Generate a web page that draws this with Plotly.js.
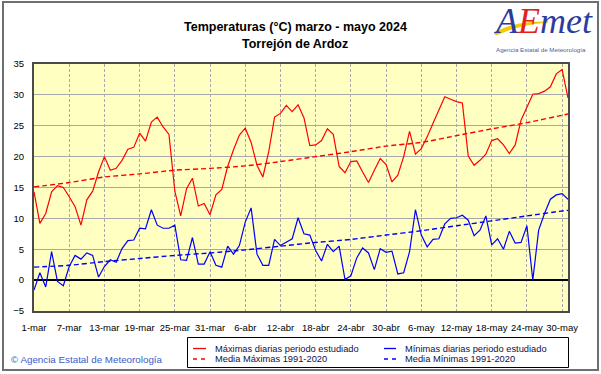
<!DOCTYPE html>
<html>
<head>
<meta charset="utf-8">
<script src="https://cdn.plot.ly/plotly-3.0.1.min.js"></script>
<style>html,body{margin:0;padding:0;background:#fff;}#chart{width:601px;height:374px;}</style>
</head>
<body>
<div id="chart"></div>
<script>
// Daily maximum temperatures, 1 March .. 31 May 2024 (°C)
const tmax = [14.3, 9.2, 10.8, 14.3, 15.3, 15.0, 13.5, 11.9, 8.9, 13.0,
  14.4, 17.5, 20.0, 17.8, 18.1, 19.4, 21.2, 21.5, 23.8, 22.5,
  25.6, 26.4, 24.8, 23.6, 14.4, 10.4, 14.8, 16.5, 12.0, 12.4,
  10.6, 13.8, 14.7, 18.4, 21.1, 23.5, 24.6, 22.3, 18.6, 16.7,
  20.8, 26.4, 27.0, 28.3, 27.3, 28.4, 26.3, 21.8, 21.9, 22.6,
  24.5, 23.6, 18.4, 17.4, 19.2, 19.3, 17.5, 15.8, 17.8, 19.7,
  18.7, 15.9, 17.0, 20.0, 24.1, 20.4, 21.3, 23.2, 25.4, 27.5,
  29.7, 29.3, 28.9, 28.7, 20.1, 18.6, 19.4, 20.4, 22.6, 22.9,
  21.9, 20.5, 21.9, 25.9, 28.1, 30.1, 30.2, 30.6, 31.3, 33.4,
  34.1, 29.5];
// Daily minimum temperatures (°C)
const tmin = [-1.6, 1.2, -1.1, 4.6, -0.2, -0.9, 2.2, 4.0, 3.4, 4.4,
  4.0, 0.5, 2.2, 3.3, 2.9, 5.1, 6.4, 6.5, 8.4, 8.3,
  11.4, 8.9, 8.4, 8.4, 8.9, 3.3, 3.2, 6.9, 2.6, 2.6,
  4.6, 2.4, 2.1, 5.5, 4.2, 5.6, 9.4, 11.7, 4.2, 2.4,
  2.4, 6.6, 5.6, 6.2, 6.7, 10.1, 7.5, 7.3, 4.8, 3.1,
  5.8, 4.6, 5.5, 0.1, 0.7, 3.6, 5.2, 4.4, 1.7, 5.1,
  4.5, 4.7, 1.0, 1.2, 4.6, 11.4, 7.3, 5.4, 6.6, 6.7,
  9.1, 10.0, 10.1, 10.5, 9.7, 7.2, 8.1, 10.4, 5.7, 6.7,
  5.0, 7.9, 6.0, 6.1, 8.8, 0.0, 8.1, 10.8, 13.1, 13.8,
  14.0, 13.1];
// Climatological means 1991-2020, read at these dates
const meanDates = ['2024-03-01','2024-03-07','2024-03-13','2024-03-19','2024-03-25','2024-03-31',
  '2024-04-06','2024-04-12','2024-04-18','2024-04-24','2024-04-30','2024-05-06',
  '2024-05-12','2024-05-18','2024-05-24','2024-05-30','2024-05-31'];
const meanMax = [15.1, 15.8, 16.7, 17.2, 17.8, 18.1, 18.5, 19.2, 20.0, 20.8, 21.7, 22.3, 23.4, 24.5, 25.5, 26.7, 26.9];
const meanMin = [2.1, 2.4, 3.0, 3.5, 4.0, 4.4, 4.9, 5.5, 6.1, 6.6, 7.3, 8.0, 8.8, 9.6, 10.4, 11.2, 11.3];
// Axis ticks
const tickDates = ['2024-03-01','2024-03-07','2024-03-13','2024-03-19','2024-03-25','2024-03-31',
  '2024-04-06','2024-04-12','2024-04-18','2024-04-24','2024-04-30','2024-05-06',
  '2024-05-12','2024-05-18','2024-05-24','2024-05-30'];
const tickLabels = ['1-mar','7-mar','13-mar','19-mar','25-mar','31-mar','6-abr','12-abr',
  '18-abr','24-abr','30-abr','6-may','12-may','18-may','24-may','30-may'];
const yTicks = [-5, 0, 5, 10, 15, 20, 25, 30, 35];
const legendNames = ['Máximas diarias periodo estudiado', 'Mínimas diarias periodo estudiado',
  'Media Máximas 1991-2020', 'Media Mínimas 1991-2020'];

const START = Date.UTC(2024, 2, 1);
const days = tmax.map((_, i) => new Date(START + i * 86400000).toISOString().slice(0, 10));

const W = 601, H = 374, L = 34, R = 568, T = 64, B = 311;
const px = x => (x - L) / (R - L);
const py = y => (B - y) / (B - T);

const RED = '#ff0000', BLUE = '#0000ff';
const DASH = '5px,3px';

const traces = [
  {x: days, y: tmax, type: 'scatter', mode: 'lines', name: legendNames[0], line: {color: RED, width: 1.2}},
  {x: days, y: tmin, type: 'scatter', mode: 'lines', name: legendNames[1], line: {color: BLUE, width: 1.2}},
  {x: meanDates, y: meanMax, type: 'scatter', mode: 'lines', name: legendNames[2], line: {color: RED, width: 1.4, dash: DASH, shape: 'spline', smoothing: 0.6}},
  {x: meanDates, y: meanMin, type: 'scatter', mode: 'lines', name: legendNames[3], line: {color: BLUE, width: 1.4, dash: DASH, shape: 'spline', smoothing: 0.6}}
];

const tickFont = {family: 'Liberation Sans Narrow, Arial Narrow, Liberation Sans, Arial, sans-serif', size: 9.5, color: '#000'};
const legFont = {family: 'Liberation Sans, Arial, sans-serif', size: 9.3, color: '#101048'};

const shapes = [
  // outer frame
  {type: 'rect', xref: 'paper', yref: 'paper', x0: px(3), x1: px(598), y0: py(370), y1: py(2),
   line: {color: '#6e6e6e', width: 2}, fillcolor: 'rgba(0,0,0,0)', layer: 'below'},
  // legend box
  {type: 'rect', xref: 'paper', yref: 'paper', x0: px(187.5), x1: px(568.5), y0: py(367.5), y1: py(337.5),
   line: {color: '#000', width: 1}, fillcolor: '#fff'},
  // legend samples
  {type: 'line', xref: 'paper', yref: 'paper', x0: px(193), x1: px(206), y0: py(348.5), y1: py(348.5), line: {color: RED, width: 1.3}},
  {type: 'line', xref: 'paper', yref: 'paper', x0: px(193), x1: px(206), y0: py(359), y1: py(359), line: {color: RED, width: 1.3, dash: '4px,4px'}},
  {type: 'line', xref: 'paper', yref: 'paper', x0: px(384), x1: px(396), y0: py(348.5), y1: py(348.5), line: {color: BLUE, width: 1.3}},
  {type: 'line', xref: 'paper', yref: 'paper', x0: px(384), x1: px(396), y0: py(359), y1: py(359), line: {color: BLUE, width: 1.3, dash: '4px,4px'}},
  // logo swoosh
  {type: 'path', xref: 'paper', yref: 'paper',
   path: `M ${px(494)} ${py(33)} Q ${px(515)} ${py(21)} ${px(548)} ${py(22)} Q ${px(520)} ${py(24)} ${px(496)} ${py(35)} Z`,
   fillcolor: '#f5c800', line: {color: '#f5c800', width: 1}}
];

const ann = (x, y, text, font, xanchor) => ({xref: 'paper', yref: 'paper', x: px(x), y: py(y), text: text,
  showarrow: false, xanchor: xanchor || 'left', yanchor: 'middle', font: font});

const titleFont = {family: 'Liberation Sans, Arial, sans-serif', size: 12.5, color: '#000'};
const annotations = [
  ann(295, 27, '<b>Temperaturas (°C) marzo - mayo 2024</b>', titleFont, 'center'),
  ann(295, 44, '<b>Torrejón de Ardoz</b>', titleFont, 'center'),
  ann(212.5, 348.5, legendNames[0], legFont),
  ann(212.5, 359, legendNames[2], legFont),
  ann(402.5, 348.5, legendNames[1], legFont),
  ann(402.5, 359, legendNames[3], legFont),
  ann(9, 359, '© Agencia Estatal de Meteorología', {family: 'Liberation Sans, Arial, sans-serif', size: 9.8, color: '#3a5bc8'}),
  ann(543, 21, '<i><span style="color:#2b3c9e">A</span><span style="color:#e2231a">E</span><span style="color:#2b3c9e">met</span></i>',
      {family: 'Liberation Serif, DejaVu Serif, serif', size: 36, color: '#2b3c9e'}, 'center'),
  ann(541, 50, 'Agencia Estatal de Meteorología', {family: 'Liberation Sans, Arial, sans-serif', size: 6.2, color: '#4a5f9a'}, 'center')
];

const layout = {
  width: W, height: H,
  margin: {l: L, r: W - R, t: T, b: H - B, pad: 0},
  paper_bgcolor: '#ffffff',
  plot_bgcolor: '#ffffc2',
  showlegend: false,
  xaxis: {
    type: 'date', range: ['2024-03-01', '2024-05-31'],
    tickmode: 'array', tickvals: tickDates, ticktext: tickLabels,
    showgrid: true, gridcolor: '#a8a8a8', gridwidth: 1, griddash: '3px,2px',
    showline: true, linecolor: '#4a4a4a', linewidth: 2, mirror: true,
    ticks: '', ticklabelstandoff: 7, tickfont: tickFont, zeroline: false, fixedrange: true
  },
  yaxis: {
    range: [-5, 35], tickmode: 'array', tickvals: yTicks,
    showgrid: true, gridcolor: '#a8a8a8', gridwidth: 1,
    zeroline: true, zerolinecolor: '#000', zerolinewidth: 1.5,
    showline: true, linecolor: '#4a4a4a', linewidth: 2, mirror: true,
    ticks: '', ticklabelstandoff: 6, tickfont: tickFont, fixedrange: true
  },
  shapes: shapes,
  annotations: annotations
};

Plotly.newPlot('chart', traces, layout, {displayModeBar: false, staticPlot: true});
</script>
</body>
</html>
